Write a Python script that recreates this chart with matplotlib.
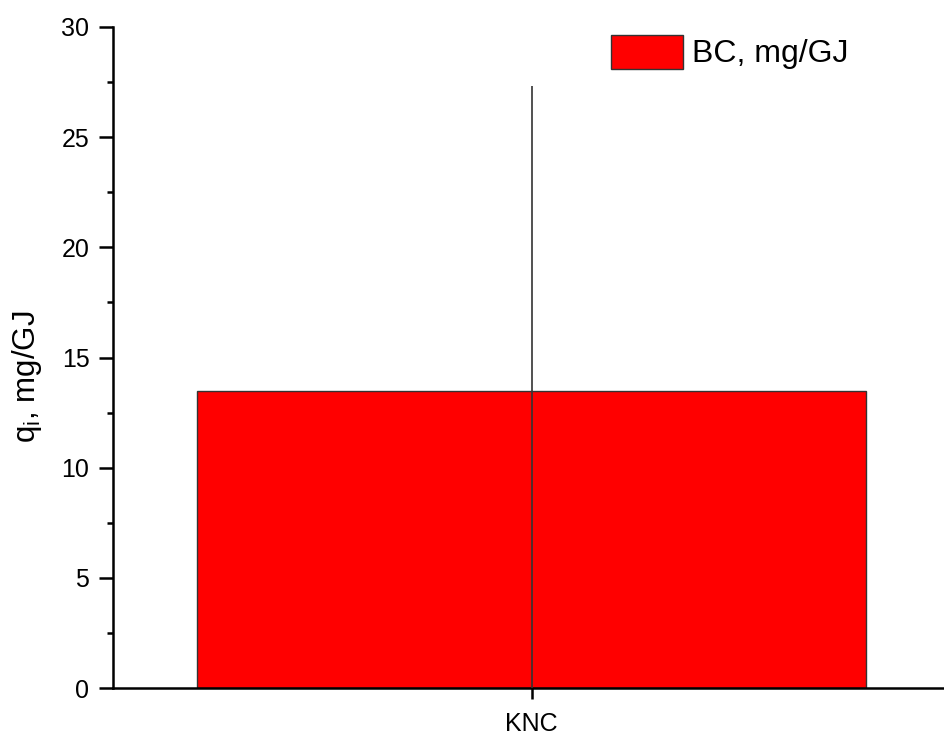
import matplotlib
matplotlib.use("Agg")
import matplotlib.pyplot as plt
from matplotlib.ticker import MultipleLocator

categories = ["KNC"]
values = [13.5]
errors = [13.8]
series_label = "BC, mg/GJ"
y_label = r"q$_\mathregular{i}$, mg/GJ"

plt.rcParams['font.family'] = ['Liberation Sans', 'DejaVu Sans']

fig = plt.figure(figsize=(9.44, 7.35), dpi=100)
ax = fig.add_axes([113/944, 47/735, (950-113)/944, (688-27)/735])

x = list(range(1, len(categories) + 1))
ax.bar(x, values, width=0.8, color='#ff0000', edgecolor='#333333', linewidth=1.0,
       label=series_label, zorder=2)
ax.errorbar(x, values, yerr=errors, fmt='none', ecolor='#333333', elinewidth=1.2,
            capsize=0, zorder=3)

ax.set_xlim(0.5, 1.5)
ax.set_ylim(0, 30)
ax.set_xticks(x)
ax.set_xticklabels(categories)
ax.yaxis.set_major_locator(MultipleLocator(5))
ax.yaxis.set_minor_locator(MultipleLocator(2.5))

for s in ['top', 'right']:
    ax.spines[s].set_visible(False)
for s in ['left', 'bottom']:
    ax.spines[s].set_linewidth(1.8)

ax.tick_params(axis='y', which='major', direction='out', length=10, width=1.8, labelsize=18, pad=7)
ax.tick_params(axis='y', which='minor', direction='out', length=4, width=1.8)
ax.tick_params(axis='x', which='major', direction='out', length=8, width=1.8, labelsize=18, pad=9)

ax.set_ylabel(y_label, fontsize=22.5)
ax.yaxis.set_label_coords(-0.083, 0.471)

leg = ax.legend(loc='upper left', bbox_to_anchor=(598/944, 1 - 22/735),
                bbox_transform=fig.transFigure, borderaxespad=0, frameon=False,
                fontsize=23, handlelength=2.25, handleheight=1.25, handletextpad=0.3)
for p in leg.get_patches():
    p.set_edgecolor('#333333')

fig.savefig("out.png", dpi=100)
